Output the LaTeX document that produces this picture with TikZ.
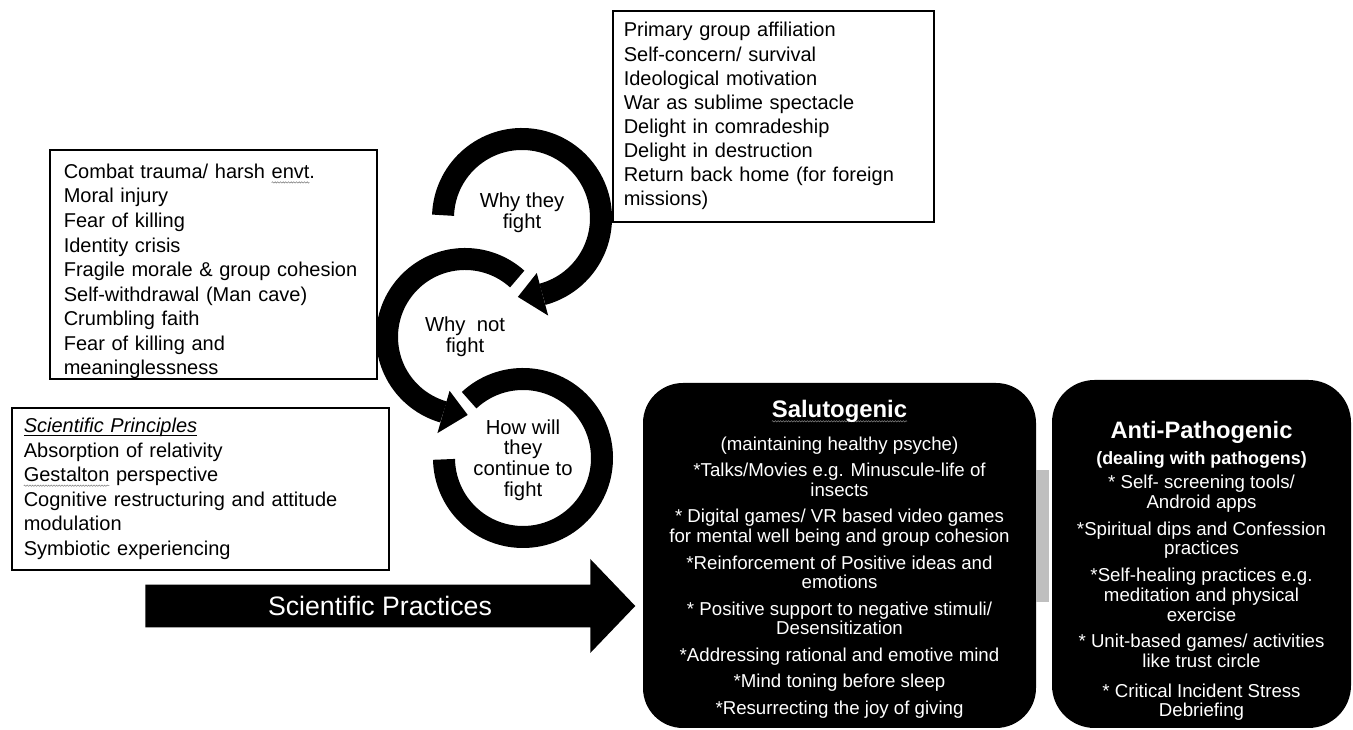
\documentclass[tikz,border=0pt]{standalone}
\usepackage{fontspec}
\setmainfont{Liberation Sans}
\setsansfont{Liberation Sans}
\usetikzlibrary{positioning, shapes.arrows, decorations.pathmorphing}
\tikzset{every picture/.style={/utils/exec={\sffamily}}}
\definecolor{bargray}{RGB}{191,191,191}
\hyphenpenalty=10000
\newsavebox\markbox
\newcommand{\spellwave}[1]{\sbox\markbox{#1}\tikz[overlay, baseline=0pt]\draw[gray, line width=0.4pt, decorate, decoration={snake, amplitude=0.5pt, segment length=2pt}] (0pt,-3pt) -- (\wd\markbox,-3pt);\usebox\markbox}
\newcommand{\lineunder}[1]{\sbox\markbox{#1}\tikz[overlay, baseline=0pt]\draw[line width=0.8pt] (0pt,-2pt) -- (\wd\markbox,-2pt);\usebox\markbox}

\begin{document}
\begin{tikzpicture}[x=0.75pt, y=0.75pt,
    listbox/.style={draw, line width=1.2pt, anchor=north west, align=left, inner ysep=0pt, font=\fontsize{15}{18.4}\selectfont},
    ring/.style={line width=16.5pt},
    ringtext/.style={align=center, font=\fontsize{15.2}{15.5}\selectfont},
    blackbox/.style={fill=black, inner sep=0pt},
    boxtext/.style={text=white, align=center, inner sep=0pt}]
        \useasboundingbox (0,0) rectangle (1353,730);

        % Lists
        \node[listbox, text width=224.25pt, inner xsep=8.25pt, minimum height=158.25pt, font=\fontsize{15}{18.1}\selectfont] (fightlist) at (612,720) {Primary group affiliation\\
            Self-concern/ survival\\
            Ideological motivation\\
            War as sublime spectacle\\
            Delight in comradeship\\
            Delight in destruction\\
            Return back home (for foreign\\
            missions)};
        \node[listbox, text width=224.25pt, inner xsep=10.5pt] (notlist) at (49,581) {\rule{0pt}{21.5pt}Combat trauma/ harsh \spellwave{envt}.\\
            Moral injury\\
            Fear of killing\\
            Identity crisis\\
            Fragile morale \& group cohesion\\
            Self-withdrawal (Man cave)\\
            Crumbling faith\\
            Fear of killing and\\
            meaninglessness};
        \node[listbox, text width=264.75pt, inner xsep=9pt, minimum height=121.5pt] (principles) at (11,323) {\lineunder{\textit{Scientific Principles}}\\
            Absorption of relativity\\
            \spellwave{Gestalton} perspective\\
            Cognitive restructuring and attitude\\
            modulation\\
            Symbiotic experiencing};

        % Circular arrows
        \coordinate (c1) at (522,512);
        \coordinate (c2) at (465,393);
        \coordinate (c3) at (523,272);
        \draw[ring] ([shift={(178:79)}]c1) arc[start angle=178, end angle=-75, radius=79];
        \fill ([shift={(-75:57)}]c1) -- ([shift={(-75:101)}]c1) -- ([shift={(-93:79)}]c1) -- cycle;
        \draw[ring] ([shift={(48:78)}]c2) arc[start angle=48, end angle=254, radius=78];
        \fill ([shift={(254:56)}]c2) -- ([shift={(254:100)}]c2) -- ([shift={(272:78)}]c2) -- cycle;
        \draw[ring] ([shift={(133:79)}]c3) arc[start angle=133, end angle=-179, radius=79];

        \node[ringtext] (whyfight) at (522,517) {Why they\\fight};
        \node[ringtext] (whynot) at (c2) {Why~~not\\fight};
        \node[ringtext] (howfight) at (523,270) {How will\\they\\continue to\\fight};

        % Practices arrow
        \node[single arrow, fill=black, text=white, minimum height=367.5pt, minimum width=70.5pt,
            single arrow head extend=18pt, single arrow tip angle=92.5, single arrow head indent=0pt,
            inner xsep=2pt, inner ysep=7.6pt, anchor=tail, font=\fontsize{20}{24}\selectfont] (practices) at (145,124) {Scientific Practices};

        % Practice boxes
        \node[blackbox, rounded corners=30pt, minimum width=294.75pt, minimum height=258.75pt] (salbox) at (839.5,174.5) {};
        \node[blackbox, rounded corners=32pt, minimum width=224.25pt, minimum height=261pt] (antibox) at (1201.5,176) {};
        \draw[bargray, line width=99pt] ([yshift=14.6pt]salbox.east) -- ([yshift=14.6pt, xshift=-2pt]salbox.east -| antibox.west);

        \node[boxtext, below=12.75pt of salbox.north, font=\fontsize{14}{14.8}\selectfont] (saltext) {{\fontsize{17.9}{21}\selectfont\bfseries\spellwave{Salutogenic}}\\[10pt]
            (maintaining healthy psyche)\\[5pt]
            *Talks/Movies e.g. Minuscule-life of\\
            insects\\[5pt]
            * Digital games/ VR based video games\\
            for mental well being and group cohesion\\[5pt]
            *Reinforcement of Positive ideas and\\
            emotions\\[5pt]
            * Positive support to negative stimuli/\\
            Desensitization\\[5pt]
            *Addressing rational and emotive mind\\[5pt]
            *Mind toning before sleep\\[5pt]
            *Resurrecting the joy of giving};
        \node[boxtext, below=31pt of antibox.north, font=\fontsize{14}{14.8}\selectfont] (antitext) {{\fontsize{17.8}{21}\selectfont\bfseries Anti-Pathogenic}\\[4.5pt]
            {\fontsize{13.4}{15}\selectfont\bfseries (dealing with pathogens)}\\[3.5pt]
            * Self- screening tools/\\
            Android apps\\[5.25pt]
            *Spiritual dips and Confession\\
            practices\\[5.25pt]
            *Self-healing practices e.g.\\
            meditation and physical\\
            exercise\\[5.25pt]
            * Unit-based games/ activities\\
            like trust circle\\[7.5pt]
            * Critical Incident Stress\\
            Debriefing};
    \end{tikzpicture}
\end{document}
